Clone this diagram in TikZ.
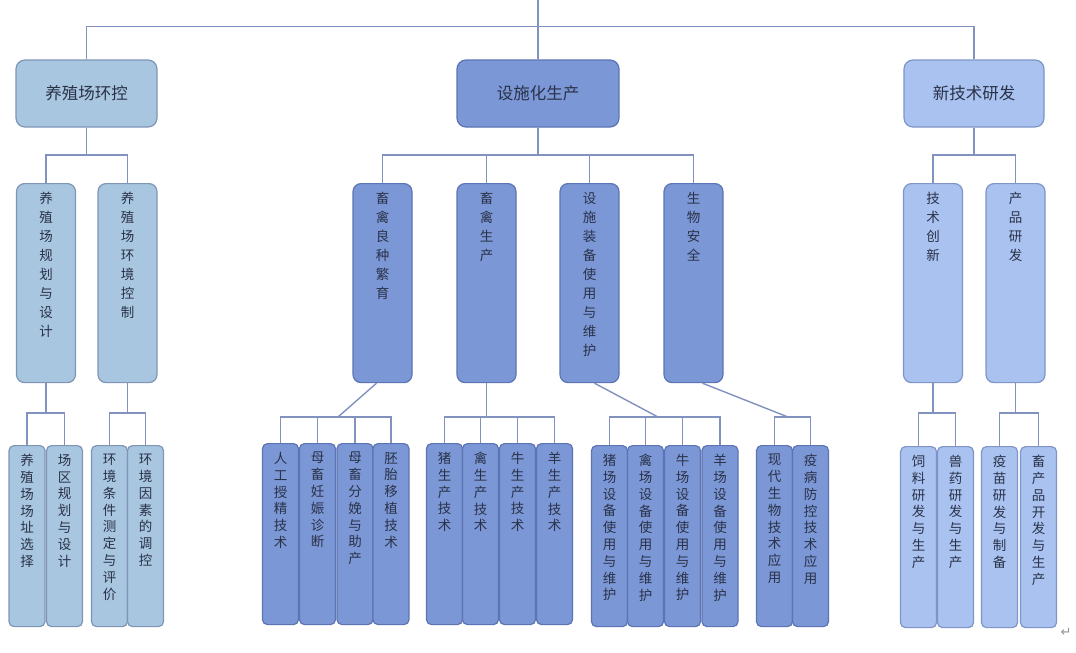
\documentclass[tikz,border=0pt]{standalone}
\usepackage{fontspec}
\newfontfamily\cjk{Noto Sans CJK SC}
\newfontfamily\symf{DejaVu Sans}
\usetikzlibrary{calc}
\definecolor{lineC}{HTML}{8292BE}
\definecolor{fillA}{HTML}{A8C6E0}
\definecolor{drawA}{HTML}{7F95B5}
\definecolor{fillB}{HTML}{7B97D6}
\definecolor{drawB}{HTML}{5D74B4}
\definecolor{fillC}{HTML}{A9C2F0}
\definecolor{drawC}{HTML}{7F95C8}
\definecolor{txt}{HTML}{2A3248}
\makeatletter
\def\vt#1{\vtA#1\vtEnd}
\def\vtA#1#2\vtEnd{#1\ifx\vtEnd#2\vtEnd\expandafter\vtStop\else\expandafter\vtNext\fi{#2}}
\def\vtStop#1{}
\def\vtNext#1{\\\vtA#1\vtEnd}
\makeatother
\newcommand\vb[6]{\node[#1] (#2) at (#3,#4) {};
  \node[#6] at ([yshift=-9pt]#2.north) {\vt{#5}};}
\begin{document}
\begin{tikzpicture}[x=1pt,y=-1pt,
  every node/.style={inner sep=0pt},
  ln/.style={draw=lineC,line width=1.4pt},
  boxbase/.style={line width=1.2pt,text=txt},
  grpA/.style={draw=drawA,fill=fillA},
  grpB/.style={draw=drawB,fill=fillB},
  grpC/.style={draw=drawC,fill=fillC},
  topbox/.style={boxbase,rounded corners=9pt,minimum height=67pt,font=\cjk\fontsize{16.5}{18}\selectfont},
  midbox/.style={boxbase,rounded corners=8pt,minimum width=59pt,minimum height=199pt,anchor=north},
  leafbox/.style={boxbase,rounded corners=5pt,minimum width=36pt,minimum height=181pt,anchor=north},
  vtm/.style={anchor=north,align=center,text=txt,font=\cjk\fontsize{13.5}{19}\selectfont},
  vtl/.style={anchor=north,align=center,text=txt,font=\cjk\fontsize{13.5}{16.8}\selectfont}]
\useasboundingbox[fill=white] (0,0) rectangle (1076,653);

% top level
\node[topbox,grpA,minimum width=141pt] (b1) at (86.5,93.5) {养殖场环控};
\node[topbox,grpB,minimum width=162pt] (b2) at (538,93.5) {设施化生产};
\node[topbox,grpC,minimum width=140pt] (b3) at (974,93.5) {新技术研发};

% level 2
\vb{midbox,grpA}{m1}{46}{183}{养殖场规划与设计}{vtm}
\vb{midbox,grpA}{m2}{127.5}{183}{养殖场环境控制}{vtm}
\vb{midbox,grpB}{m3}{382.5}{183}{畜禽良种繁育}{vtm}
\vb{midbox,grpB}{m4}{486.5}{183}{畜禽生产}{vtm}
\vb{midbox,grpB}{m5}{589.5}{183}{设施装备使用与维护}{vtm}
\vb{midbox,grpB}{m6}{693.5}{183}{生物安全}{vtm}
\vb{midbox,grpC}{m7}{933}{183}{技术创新}{vtm}
\vb{midbox,grpC}{m8}{1015.5}{183}{产品研发}{vtm}

% leaves
\vb{leafbox,grpA}{l1}{27}{445}{养殖场场址选择}{vtl}
\vb{leafbox,grpA}{l2}{64.5}{445}{场区规划与设计}{vtl}
\vb{leafbox,grpA}{l3}{109.5}{445}{环境条件测定与评价}{vtl}
\vb{leafbox,grpA}{l4}{145.5}{445}{环境因素的调控}{vtl}

\vb{leafbox,grpB}{l5}{280.5}{443}{人工授精技术}{vtl}
\vb{leafbox,grpB}{l6}{317.5}{443}{母畜妊娠诊断}{vtl}
\vb{leafbox,grpB}{l7}{355}{443}{母畜分娩与助产}{vtl}
\vb{leafbox,grpB}{l8}{391}{443}{胚胎移植技术}{vtl}

\vb{leafbox,grpB}{l9}{444.5}{443}{猪生产技术}{vtl}
\vb{leafbox,grpB}{l10}{480.5}{443}{禽生产技术}{vtl}
\vb{leafbox,grpB}{l11}{517.5}{443}{牛生产技术}{vtl}
\vb{leafbox,grpB}{l12}{554.5}{443}{羊生产技术}{vtl}

\vb{leafbox,grpB}{l13}{609.5}{445}{猪场设备使用与维护}{vtl}
\vb{leafbox,grpB}{l14}{645.5}{445}{禽场设备使用与维护}{vtl}
\vb{leafbox,grpB}{l15}{682.5}{445}{牛场设备使用与维护}{vtl}
\vb{leafbox,grpB}{l16}{720}{445}{羊场设备使用与维护}{vtl}

\vb{leafbox,grpB}{l17}{774.5}{445}{现代生物技术应用}{vtl}
\vb{leafbox,grpB}{l18}{810.5}{445}{疫病防控技术应用}{vtl}

\vb{leafbox,grpC}{l19}{918.5}{446}{饲料研发与生产}{vtl}
\vb{leafbox,grpC}{l20}{955.5}{446}{兽药研发与生产}{vtl}
\vb{leafbox,grpC}{l21}{999.5}{446}{疫苗研发与制备}{vtl}
\vb{leafbox,grpC}{l22}{1038.5}{446}{畜产品开发与生产}{vtl}

\node[text=gray!85,font=\symf\fontsize{13}{14}\selectfont] (pm) at (1066,632) {↵};

% connectors: top
\coordinate (top) at (538,0);
\draw[ln] (top) -- (b2.north);
\draw[ln] (b1.north) -- ++(0,-33) -| (b3.north);

% level 1 -> level 2
\foreach \p/\c in {b1/m1,b1/m2,b2/m3,b2/m4,b2/m5,b2/m6,b3/m7,b3/m8}
  \draw[ln] (\p.south) |- ([yshift=28pt]\c.north) -- (\c.north);

% straight groups
\foreach \p/\c in {m1/l1,m1/l2,m2/l3,m2/l4}
  \draw[ln] (\p.south) |- ([yshift=32pt]\c.north) -- (\c.north);
\foreach \p/\c in {m4/l9,m4/l10,m4/l11,m4/l12}
  \draw[ln] (\p.south) |- ([yshift=26pt]\c.north) -- (\c.north);
\foreach \p/\c in {m7/l19,m7/l20,m8/l21,m8/l22}
  \draw[ln] (\p.south) |- ([yshift=33pt]\c.north) -- (\c.north);

% diagonal groups
\coordinate (d1) at (338,417);
\draw[ln] ([xshift=-6pt]m3.south) -- (d1);
\draw[ln] (l5.north) -- ++(0,-26) -| (l8.north);
\draw[ln] (l6.north) -- ++(0,-26);
\draw[ln] (l7.north) -- ++(0,-26);

\coordinate (d2) at (658,417);
\draw[ln] ([xshift=5pt]m5.south) -- (d2);
\draw[ln] (l13.north) -- ++(0,-28) -| (l16.north);
\draw[ln] (l14.north) -- ++(0,-28);
\draw[ln] (l15.north) -- ++(0,-28);

\coordinate (d3) at (788,417);
\draw[ln] ([xshift=9pt]m6.south) -- (d3);
\draw[ln] (l17.north) -- ++(0,-28) -| (l18.north);
\end{tikzpicture}
\end{document}
